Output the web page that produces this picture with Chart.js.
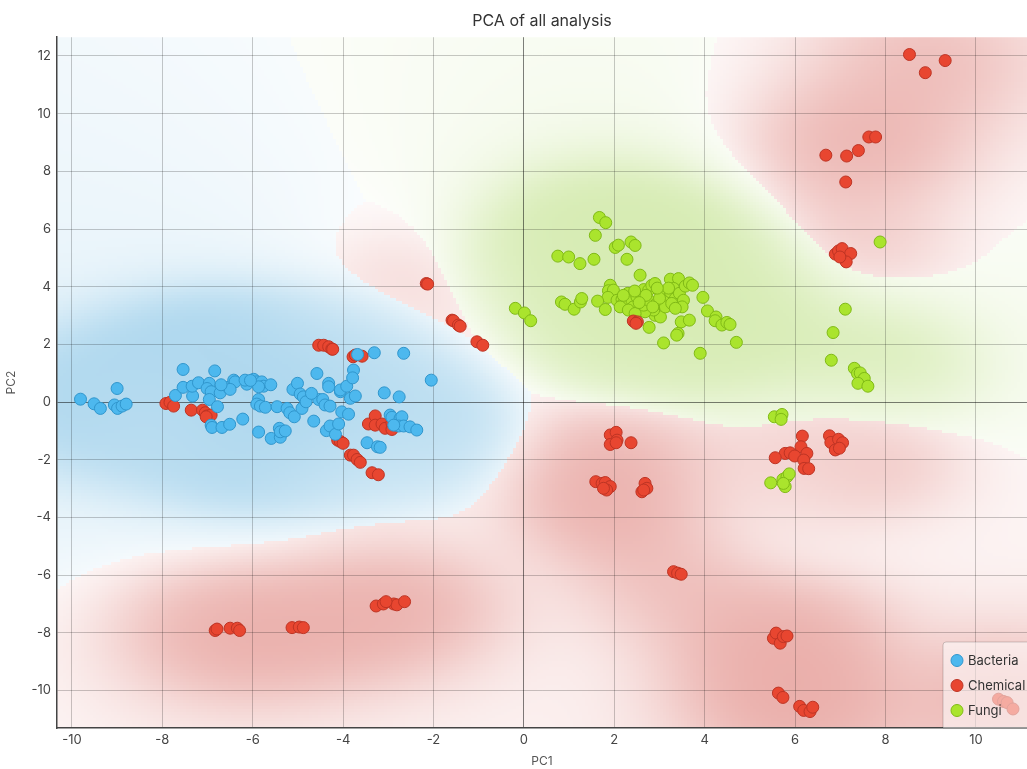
<!DOCTYPE html>
<html>
<head>
<meta charset="utf-8">
<script src="https://cdn.jsdelivr.net/npm/chart.js@4.4.1/dist/chart.umd.min.js"></script>
<style>
  html, body { margin: 0; padding: 0; background: #fff; }
  #wrap { width: 1027px; height: 769px; }
</style>
</head>
<body>
<div id="wrap"><canvas id="pca"></canvas></div>
<script>
// Points: [PC1, PC2]
const bacteriaPts = [
  [-9.81,0.10],[-9.51,-0.06],[-9.37,-0.22],[-9.00,0.47],[-9.06,-0.10],[-8.99,-0.22],[-8.89,-0.14],[-8.80,-0.07],
  [-7.54,1.13],[-7.71,0.23],[-7.54,0.51],[-7.33,0.21],[-7.34,0.55],[-7.20,0.67],[-6.84,1.08],[-6.96,0.65],
  [-7.01,0.47],[-6.92,0.36],[-6.96,0.09],[-6.78,-0.16],[-6.72,0.32],[-6.92,-0.80],[-6.90,-0.88],[-6.68,-0.88],
  [-6.51,-0.77],[-6.22,-0.59],[-6.54,0.51],[-6.42,0.76],[-6.39,0.70],[-6.50,0.44],[-6.13,0.62],[-6.17,0.76],
  [-5.98,0.79],[-5.91,0.70],[-5.80,0.70],[-5.76,0.55],[-5.87,0.53],[-5.87,0.09],[-5.91,-0.07],[-5.83,-0.14],
  [-5.72,-0.18],[-5.87,-1.04],[-5.59,-1.26],[-5.39,-1.22],[-5.41,-0.91],[-5.39,-1.03],[-5.28,-1.00],[-5.46,-0.16],
  [-5.24,-0.22],[-5.18,-0.37],[-5.08,-0.51],[-5.11,0.44],[-5.01,0.65],[-4.95,0.28],[-4.88,0.18],[-4.91,-0.22],
  [-4.82,0.01],[-4.58,0.99],[-4.65,-0.66],[-4.54,0.09],[-4.45,0.09],[-4.40,-0.10],[-4.29,-0.14],[-4.32,0.65],
  [-4.32,0.53],[-4.37,-0.99],[-4.29,-0.83],[-4.17,-1.12],[-4.10,-0.76],[-4.06,0.36],[-4.06,0.42],[-3.92,0.55],
  [-4.03,-0.34],[-3.88,-0.42],[-3.84,0.13],[-3.73,0.21],[-3.77,1.11],[-3.79,0.84],[-3.68,1.65],[-3.31,1.71],
  [-2.66,1.69],[-3.09,0.32],[-2.76,0.18],[-2.05,0.76],[-3.47,-1.41],[-3.24,-1.55],[-3.18,-1.57],[-2.96,-0.45],
  [-2.92,-0.53],[-2.74,-0.57],[-2.70,-0.51],[-2.77,-0.83],[-2.66,-0.83],[-2.52,-0.86],[-2.37,-0.97],[-2.88,-0.80],
  [-6.05,0.75],[-5.60,0.60],[-6.70,0.60],[-4.70,0.30]
];
const chemicalPts = [
  [-7.92,-0.05],[-7.83,-0.01],[-7.75,-0.14],[-7.36,-0.28],[-7.11,-0.28],[-7.05,-0.37],[-7.01,-0.48],[-6.92,-0.45],
  [-7.03,-0.51],[-4.54,1.97],[-4.43,1.97],[-4.32,1.92],[-4.25,1.84],[-4.23,1.83],[-3.78,1.57],[-3.73,1.63],
  [-3.58,1.59],[-4.12,-1.32],[-4.06,-1.37],[-4.00,-1.43],[-3.84,-1.84],[-3.77,-1.84],[-3.69,-1.99],[-3.62,-2.09],
  [-3.36,-2.45],[-3.22,-2.52],[-3.44,-0.76],[-3.29,-0.48],[-3.29,-0.80],[-3.14,-0.76],[-3.07,-0.91],[-2.92,-0.95],
  [-2.92,-0.72],[-1.59,2.84],[-1.56,2.82],[-1.45,2.67],[-1.41,2.63],[-1.04,2.09],[-0.91,1.97],[-2.16,4.11],
  [-2.13,4.09],[1.91,-1.14],[2.04,-1.05],[2.06,-1.32],[1.91,-1.47],[2.04,-1.41],[2.37,-1.41],[1.59,-2.76],
  [1.73,-2.82],[1.80,-2.79],[1.91,-2.93],[1.83,-3.05],[1.76,-2.99],[2.68,-2.82],[2.72,-2.99],[2.61,-3.11],
  [2.65,-3.05],[2.42,2.81],[2.51,2.78],[2.48,2.73],[3.31,-5.88],[3.40,-5.93],[3.48,-5.97],[5.52,-8.19],
  [5.58,-8.01],[5.67,-8.36],[5.74,-8.13],[5.82,-8.11],[5.63,-10.09],[5.73,-10.24],[6.10,-10.55],[6.19,-10.69],
  [6.33,-10.73],[6.39,-10.58],[-6.83,-7.92],[-6.79,-7.87],[-6.50,-7.84],[-6.34,-7.84],[-6.29,-7.92],[-5.13,-7.82],
  [-4.97,-7.80],[-4.88,-7.82],[-3.27,-7.07],[-3.11,-7.00],[-2.88,-7.00],[-2.81,-7.03],[-2.64,-6.92],[-3.05,-6.92],
  [7.12,7.63],[6.89,5.13],[6.96,5.24],[7.04,5.32],[7.23,5.15],[7.13,4.86],[6.99,5.03],[8.53,12.05],
  [8.88,11.42],[9.32,11.84],[6.68,8.56],[7.14,8.53],[7.40,8.72],[7.63,9.19],[7.78,9.19],[6.16,-1.18],
  [6.13,-1.55],[6.26,-1.78],[5.78,-1.78],[5.89,-1.76],[5.99,-1.87],[5.56,-1.93],[6.19,-2.01],[6.20,-2.30],
  [6.30,-2.31],[6.76,-1.17],[6.79,-1.40],[6.96,-1.29],[7.05,-1.41],[6.89,-1.66],[6.98,-1.60],[10.50,-10.30],
  [10.61,-10.38],[10.69,-10.42],[10.82,-10.64]
];
const fungiPts = [
  [1.67,6.40],[1.81,6.22],[1.58,5.78],[0.75,5.06],[0.99,5.03],[1.24,4.80],[1.55,4.95],[2.02,5.36],
  [2.09,5.44],[2.37,5.55],[2.46,5.43],[2.28,4.95],[2.57,4.40],[1.91,4.05],[1.87,3.86],[1.98,3.88],
  [1.86,3.63],[2.06,3.53],[2.17,3.56],[2.20,3.42],[2.30,3.77],[2.39,3.53],[2.42,3.30],[2.50,3.71],
  [2.61,3.59],[2.65,3.90],[2.76,3.88],[2.83,4.05],[2.90,4.11],[3.02,3.82],[3.09,3.65],[3.16,3.53],
  [3.24,4.26],[3.42,4.28],[3.24,3.82],[3.31,3.94],[3.35,3.59],[3.44,3.77],[3.53,3.53],[3.50,3.30],
  [3.57,4.02],[3.66,4.13],[3.73,4.05],[3.96,3.63],[4.06,3.16],[4.25,2.95],[4.23,2.82],[4.38,2.67],
  [4.49,2.76],[4.56,2.69],[4.70,2.07],[3.90,1.69],[3.09,2.05],[3.41,2.38],[3.38,2.32],[3.48,2.78],
  [3.66,2.84],[2.77,2.59],[2.90,3.01],[3.02,2.95],[2.87,3.19],[2.68,3.13],[2.65,3.36],[2.76,3.53],
  [2.94,3.42],[3.13,3.30],[3.27,3.42],[-0.19,3.25],[0.01,3.09],[0.15,2.82],[0.83,3.47],[0.91,3.39],
  [1.11,3.22],[1.25,3.47],[1.28,3.59],[1.63,3.50],[1.80,3.21],[2.13,3.30],[2.31,3.19],[2.46,3.07],
  [7.88,5.55],[7.11,3.22],[6.84,2.41],[6.80,1.45],[7.31,1.17],[7.38,0.99],[7.44,1.01],[7.53,0.82],
  [7.39,0.65],[7.61,0.55],[5.54,-0.51],[5.71,-0.43],[5.69,-0.60],[5.46,-2.80],[5.73,-2.68],[5.82,-2.59],
  [5.87,-2.49],[5.78,-2.93],[5.74,-2.82],[2.50,3.65],[2.70,3.70],[3.00,3.60],[2.85,3.30],[2.55,3.45],
  [3.20,3.95],[2.95,3.95],[2.45,3.85],[2.20,3.70],[3.35,3.25]
];
const seriesNames = ['Bacteria', 'Chemical', 'Fungi'];
const xRange = [-10.33, 11.13];
const yRange = [-11.30, 12.65];

const fillColors = ['rgb(77,184,238)', 'rgb(232,70,48)', 'rgb(170,228,45)'];
const lineColors = ['rgb(48,150,205)', 'rgb(190,52,36)', 'rgb(128,186,22)'];
const fieldColors = [[41,150,210], [205,62,52], [140,200,40]];
const fieldStrength = [0.42, 0.44, 0.36];
const classPrior = [1.33, 0.8, 1.04];

// Фон: для кожної клітинки — клас з найбільшою сумою ядер
function buildField(chart) {
  const a = chart.chartArea, xs = chart.scales.x, ys = chart.scales.y;
  const cell = 3;
  const nx = Math.ceil(a.width / cell), ny = Math.ceil(a.height / cell);
  const off = document.createElement('canvas');
  off.width = nx; off.height = ny;
  const octx = off.getContext('2d');
  const img = octx.createImageData(nx, ny);
  const groups = [bacteriaPts, chemicalPts, fungiPts];
  for (let j = 0; j < ny; j++) {
    const vy = ys.getValueForPixel(a.top + (j + 0.5) * cell);
    for (let i = 0; i < nx; i++) {
      const vx = xs.getValueForPixel(a.left + (i + 0.5) * cell);
      const w = [0, 0, 0], near = [0, 0, 0];
      groups.forEach((pts, g) => {
        for (const [px, py] of pts) {
          const d2 = (px - vx) * (px - vx) + (py - vy) * (py - vy);
          const k = Math.exp(-d2 / 4.5);
          const t = 1 + d2 / 8;
          near[g] += k;
          w[g] += k + 0.2 / (t * t);
        }
        w[g] *= classPrior[g];
      });
      const sum = w[0] + w[1] + w[2];
      let best = 0;
      for (let g = 1; g < 3; g++) if (w[g] > w[best]) best = g;
      const pn = (w[best] / sum - 1 / 3) * 1.5;
      const f = 1 - Math.exp(-near[best] / 3);
      const alpha = fieldStrength[best] * (0.2 + 0.8 * pn) * (0.3 + 0.7 * f);
      const c = fieldColors[best];
      const idx = (j * nx + i) * 4;
      img.data[idx] = 255 - alpha * (255 - c[0]);
      img.data[idx + 1] = 255 - alpha * (255 - c[1]);
      img.data[idx + 2] = 255 - alpha * (255 - c[2]);
      img.data[idx + 3] = 255;
    }
  }
  octx.putImageData(img, 0, 0);
  return off;
}

const fieldPlugin = {
  id: 'field',
  beforeDraw(chart) {
    const { ctx, chartArea: a } = chart;
    if (!chart.$field) chart.$field = buildField(chart);
    ctx.save();
    ctx.beginPath();
    ctx.rect(a.left, a.top, a.width, a.height);
    ctx.clip();
    ctx.imageSmoothingEnabled = false;
    ctx.drawImage(chart.$field, a.left, a.top, chart.$field.width * 3, chart.$field.height * 3);
    ctx.restore();
  }
};

// Легенда в правому нижньому куті області графіка
const legendBox = {
  id: 'legendBox',
  afterDraw(chart) {
    const { ctx, chartArea: a } = chart;
    const x0 = a.right - 84, y0 = a.bottom - 86;
    ctx.save();
    ctx.beginPath();
    ctx.roundRect(x0, y0, 110, 86, [3, 3, 0, 0]);
    ctx.fillStyle = 'rgba(255,255,255,0.55)';
    ctx.fill();
    ctx.strokeStyle = 'rgba(0,0,0,0.18)';
    ctx.lineWidth = 1;
    ctx.stroke();
    chart.data.datasets.forEach((ds, i) => {
      const cy = y0 + 18.5 + i * 25;
      ctx.beginPath();
      ctx.arc(x0 + 14, cy, 6, 0, Math.PI * 2);
      ctx.fillStyle = ds.backgroundColor;
      ctx.fill();
      ctx.strokeStyle = ds.borderColor;
      ctx.stroke();
      ctx.fillStyle = '#333';
      ctx.font = '13px Inter';
      ctx.textBaseline = 'middle';
      ctx.fillText(ds.label, x0 + 25, cy + 0.5);
    });
    ctx.restore();
  }
};

const gridColor = c => c.tick && c.tick.value === 0 ? 'rgba(0,0,0,0.5)' : 'rgba(0,0,0,0.21)';

new Chart(document.getElementById('pca'), {
  type: 'scatter',
  data: {
    datasets: [bacteriaPts, chemicalPts, fungiPts].map((pts, i) => ({
      label: seriesNames[i],
      data: pts.map(([x, y]) => ({ x, y })),
      backgroundColor: fillColors[i],
      borderColor: lineColors[i],
      borderWidth: 1,
      pointRadius: 6
    }))
  },
  options: {
    responsive: true,
    maintainAspectRatio: false,
    animation: false,
    layout: { padding: 0, autoPadding: false },
    plugins: {
      legend: { display: false },
      tooltip: { enabled: false },
      title: {
        display: true,
        text: 'PCA of all analysis',
        fullSize: false,
        color: '#333',
        font: { family: 'Inter', size: 16, weight: 'normal' },
        padding: { top: 12, bottom: 6 }
      }
    },
    scales: {
      x: {
        type: 'linear',
        min: xRange[0], max: xRange[1],
        afterFit: s => { s.height = 41; },
        grid: { color: gridColor, drawTicks: false },
        border: { display: true, color: '#444', width: 1.5 },
        ticks: { stepSize: 2, includeBounds: false, padding: 4, color: '#444', font: { family: 'Inter', size: 13 } },
        title: { display: true, text: 'PC1', color: '#555', font: { family: 'Inter', size: 12 }, padding: { top: 6, bottom: 0 } }
      },
      y: {
        type: 'linear',
        min: yRange[0], max: yRange[1],
        afterFit: s => { s.width = 57; },
        grid: { color: gridColor, drawTicks: false },
        border: { display: true, color: '#444', width: 1.5 },
        ticks: { stepSize: 2, includeBounds: false, padding: 6, color: '#444', font: { family: 'Inter', size: 13 } },
        title: { display: true, text: 'PC2', color: '#555', font: { family: 'Inter', size: 12 }, padding: { top: 4, bottom: 4 } }
      }
    }
  },
  plugins: [fieldPlugin, legendBox]
});
</script>
</body>
</html>
